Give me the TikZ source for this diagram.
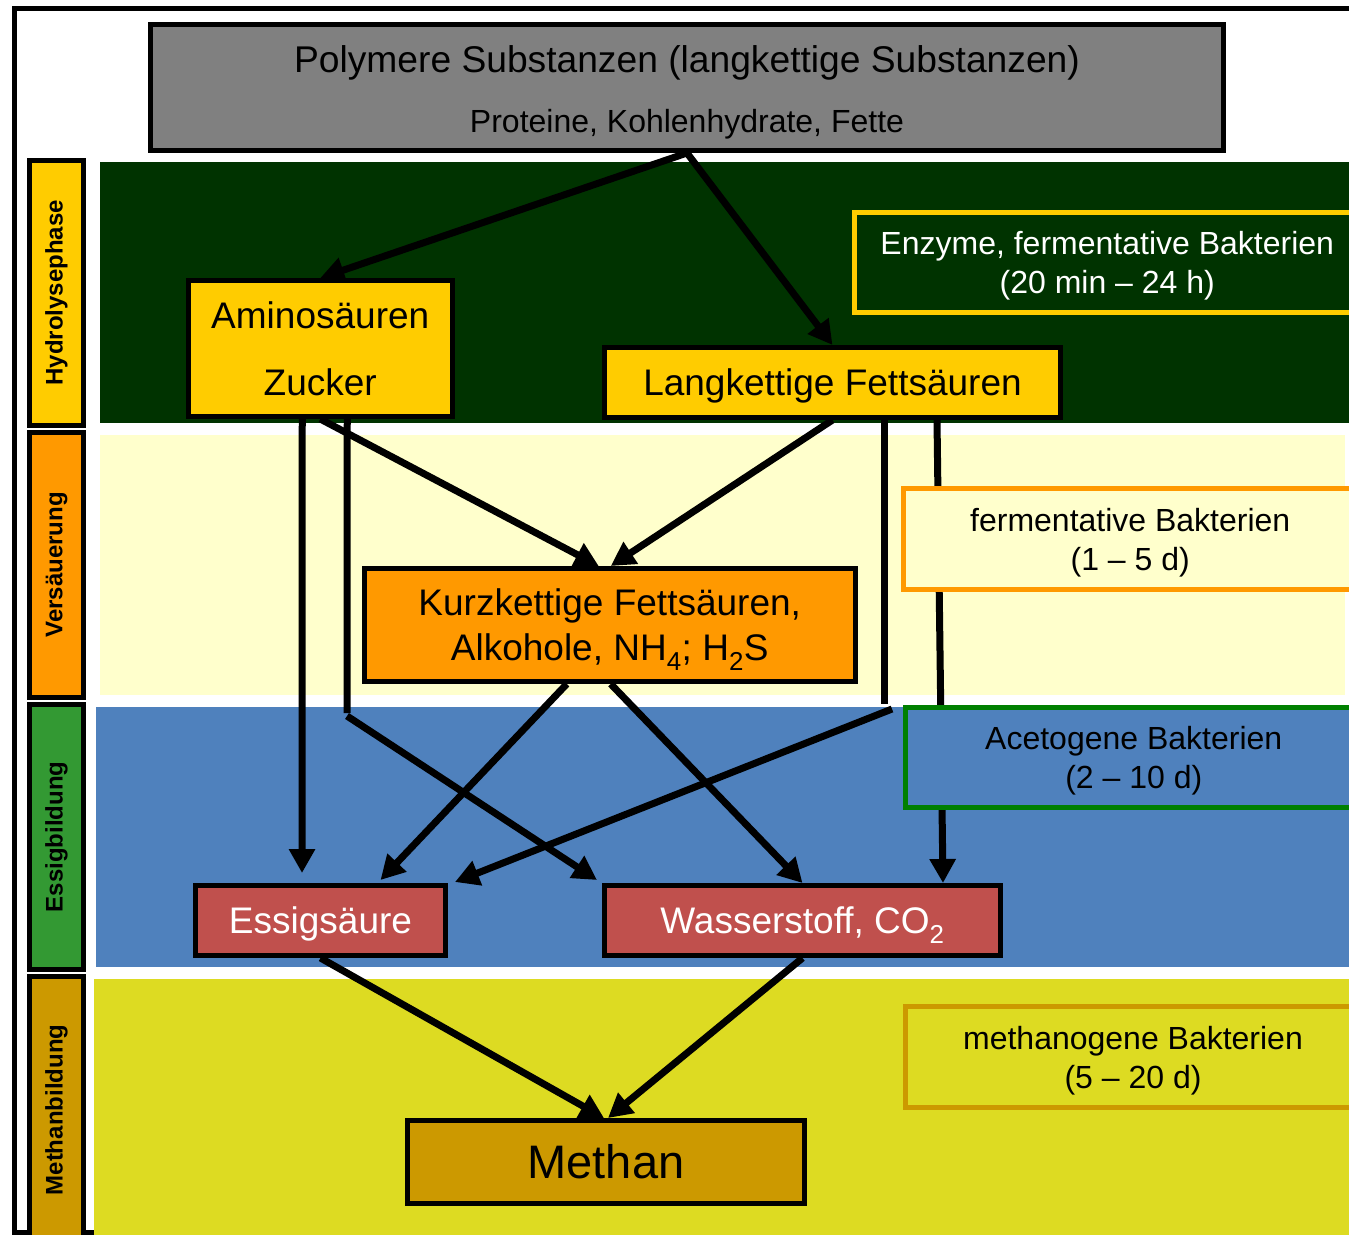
\documentclass[tikz,border=0pt]{standalone}
\usepackage{fontspec}
\setmainfont{Liberation Sans}
\usetikzlibrary{arrows.meta,calc}
\definecolor{polygrey}{HTML}{808080}
\definecolor{mygold}{HTML}{FFCC00}
\definecolor{myorange}{HTML}{FF9900}
\definecolor{greenph}{HTML}{339933}
\definecolor{darkgold}{HTML}{CC9900}
\definecolor{dkgreen}{HTML}{003300}
\definecolor{lightyel}{HTML}{FFFFCC}
\definecolor{bluec}{HTML}{4F81BD}
\definecolor{bandyel}{HTML}{DDDB22}
\definecolor{redc}{HTML}{C0504D}
\definecolor{greenc}{HTML}{008000}
\begin{document}
\begin{tikzpicture}[x=1pt,y=-1pt,
  every node/.style={inner sep=0pt},
  box/.style={draw=black,line width=5pt,align=center,text depth=0pt,font=\fontsize{37}{45}\selectfont},
  phase/.style={draw=black,line width=5pt,rotate=90,minimum height=54pt,font=\fontsize{24}{28}\selectfont\bfseries},
  info/.style={line width=5pt,align=center,text depth=0pt,font=\fontsize{32}{39}\selectfont},
  arr/.style={line width=7pt,-{Triangle[length=24pt,width=25pt]}},
  ln/.style={line width=7pt}]
\useasboundingbox (0,0) rectangle (1349,1234);
\clip (0,0) rectangle (1349,1234);
\fill[white] (0,0) rectangle (1349,1234);
% outer frame
\draw[line width=5pt] (14.5,8.5) rectangle (1370,1232.5);
% bands
\fill[dkgreen] (100,162) rectangle (1360,423);
\fill[lightyel] (100,435) rectangle (1345,695);
\fill[bluec] (96,707) rectangle (1360,967);
\fill[bandyel] (94,979) rectangle (1360,1240);
% phase labels
\node[phase,fill=mygold,minimum width=265.5pt] (ph1) at (56.5,292.75) {Hydrolysephase};
\node[phase,fill=myorange,minimum width=265.5pt] (ph2) at (56.5,564.75) {Versäuerung};
\node[phase,fill=greenph,minimum width=264.5pt] (ph3) at (56.5,836.75) {Essigbildung};
\node[phase,fill=darkgold,minimum width=267pt] (ph4) at (56.5,1110) {Methanbildung};
% main boxes
\node[box,fill=polygrey,minimum width=1073pt,minimum height=126pt] (poly) at (687,87.5) {};
\node[font=\fontsize{37.2}{44}\selectfont] (polyt) at (687,63) {Polymere Substanzen (langkettige Substanzen)};
\node[font=\fontsize{32}{38}\selectfont] (polys) at (687,124) {Proteine, Kohlenhydrate, Fette};
\node[box,fill=mygold,minimum width=263.5pt,minimum height=136pt,text depth=,font=\fontsize{37}{67}\selectfont] (az) at (320.25,348.5) {Aminosäuren\\Zucker};
\node[box,fill=mygold,minimum width=456pt,minimum height=70pt] (lf) at (832.5,382.5) {Langkettige Fettsäuren};
\node[box,fill=myorange,minimum width=490.5pt,minimum height=113pt] (kf) at (609.75,625) {Kurzkettige Fettsäuren,\\Alkohole, NH\textsubscript{4}; H\textsubscript{2}S};
\node[box,fill=redc,text=white,minimum width=250pt,minimum height=70pt] (es) at (320.5,920.5) {Essigsäure};
\node[box,fill=redc,text=white,minimum width=396pt,minimum height=70pt] (ws) at (802.5,920.5) {Wasserstoff, CO\textsubscript{2}};
\node[box,fill=darkgold,minimum width=397pt,minimum height=82.5pt,text depth=,font=\fontsize{47}{56}\selectfont] (me) at (606,1161.75) {Methan};
% bend points
\coordinate (b1) at (347,713);
\coordinate (b1b) at (347,716);
\coordinate (b2) at (884,704);
\coordinate (b2b) at (892,709);
% arrows
\draw[arr] (poly.south) -- (az.north);
\draw[arr] (poly.south) -- (lf.north);
\draw[arr] (az.south) -- ($(kf.north)+(-11,0)$);
\draw[arr] (lf.south) -- ($(kf.north)+(1,0)$);
\draw[arr] ($(az.south)+(-18,0)$) -- ($(es.north)+(-18.5,-10)$);
\draw[ln] ($(az.south)+(27,0)$) -- (b1);
\draw[arr] (b1b) -- ($(ws.north west)+(-5,-3)$);
\draw[ln] ($(lf.south)+(51.5,0)$) -- (b2);
\draw[arr] (b2b) -- ($(es.north east)+(7,-1)$);
\draw[arr] ($(lf.south)+(104.5,0)$) -- ($(ws.north east)+(-60,0)$);
\draw[arr] ($(kf.south)+(-43,0)$) -- ($(es.north)+(60,-3)$);
\draw[arr] ($(kf.south)+(1,0)$) -- (ws.north);
\draw[arr] (es.south) -- ($(me.north)+(-2,0)$);
\draw[arr] (ws.south) -- ($(me.north)+(2,0)$);
% info boxes
\node[info,draw=mygold,fill=dkgreen,text=white,minimum width=505.5pt,minimum height=100pt] (enz) at (1107.25,262.5) {Enzyme, fermentative Bakterien\\(20 min – 24 h)};
\node[info,draw=myorange,fill=lightyel,minimum width=453.5pt,minimum height=101pt] (ferm) at (1130.25,539) {fermentative Bakterien\\(1 – 5 d)};
\node[info,draw=greenc,fill=bluec,minimum width=456.5pt,minimum height=100pt] (acet) at (1133.75,757.5) {Acetogene Bakterien\\(2 – 10 d)};
\node[info,draw=darkgold,fill=bandyel,minimum width=456pt,minimum height=101pt] (meth) at (1133,1057) {methanogene Bakterien\\(5 – 20 d)};
\end{tikzpicture}
\end{document}
